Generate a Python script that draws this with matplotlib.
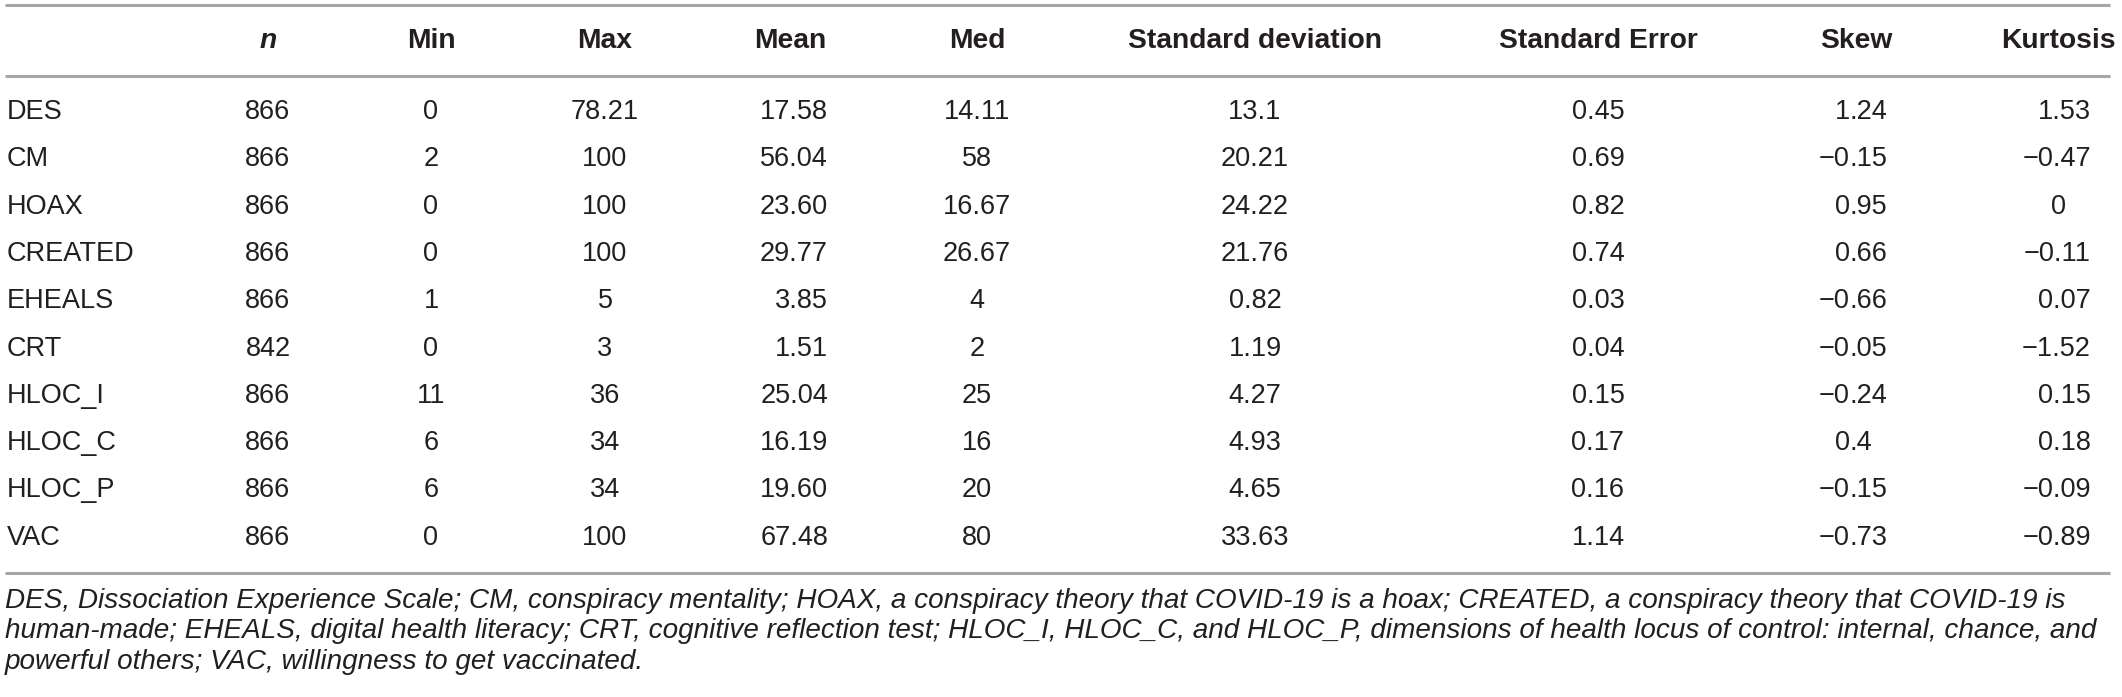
import matplotlib
matplotlib.use('Agg')
import matplotlib.pyplot as plt

plt.rcParams['font.family'] = ['Liberation Sans', 'DejaVu Sans']

columns = ['n', 'Min', 'Max', 'Mean', 'Med', 'Standard deviation',
           'Standard Error', 'Skew', 'Kurtosis']
variables = ['DES', 'CM', 'HOAX', 'CREATED', 'EHEALS', 'CRT',
             'HLOC_I', 'HLOC_C', 'HLOC_P', 'VAC']

n_vals = ['866', '866', '866', '866', '866', '842', '866', '866', '866', '866']
min_vals = ['0', '2', '0', '0', '1', '0', '11', '6', '6', '0']
max_vals = ['78.21', '100', '100', '100', '5', '3', '36', '34', '34', '100']
mean_vals = ['17.58', '56.04', '23.60', '29.77', '3.85', '1.51', '25.04',
             '16.19', '19.60', '67.48']
med_vals = ['14.11', '58', '16.67', '26.67', '4', '2', '25', '16', '20', '80']
sd_vals = ['13.1', '20.21', '24.22', '21.76', '0.82', '1.19', '4.27',
           '4.93', '4.65', '33.63']
se_vals = ['0.45', '0.69', '0.82', '0.74', '0.03', '0.04', '0.15', '0.17',
           '0.16', '1.14']
skew_vals = ['1.24', '\u22120.15', '0.95', '0.66', '\u22120.66', '\u22120.05',
             '\u22120.24', '0.4', '\u22120.15', '\u22120.73']
kurt_vals = ['1.53', '\u22120.47', '0', '\u22120.11', '0.07', '\u22121.52',
             '0.15', '0.18', '\u22120.09', '\u22120.89']

footnote = [
    'DES, Dissociation Experience Scale; CM, conspiracy mentality; HOAX, a conspiracy '
    'theory that COVID-19 is a hoax; CREATED, a conspiracy theory that COVID-19 is',
    'human-made; EHEALS, digital health literacy; CRT, cognitive reflection test; '
    'HLOC_I, HLOC_C, and HLOC_P, dimensions of health locus of control: internal, chance, and',
    'powerful others; VAC, willingness to get vaccinated.',
]

table = [n_vals, min_vals, max_vals, mean_vals, med_vals, sd_vals,
         se_vals, skew_vals, kurt_vals]

# layout in pixels (x from left, y from top)
W, H = 2122, 697
col_x = [268, 431, 605, 790, 977, 1255, 1598, 1856, 2058]
# how values sit under each header
col_align = ['center', 'center', 'center', 'right', 'center', 'center',
             'center', 'decimal', 'right']
right_x = {3: 828, 8: 2091}
dec_x = {7: 1850}

fig = plt.figure(figsize=(W / 100, H / 100), dpi=100)
ax = fig.add_axes([0, 0, 1, 1])
ax.set_xlim(0, W)
ax.set_ylim(H, 0)
ax.axis('off')

body_fs = 19.5
head_fs = 20.3
txt = '#231f20'
line_c = '#a6a6a6'

for y in [5, 76, 573]:
    ax.plot([5, 2110], [y, y], color=line_c, lw=2.2, solid_capstyle='butt')

for j, name in enumerate(columns):
    style = 'italic' if name == 'n' else 'normal'
    ax.text(col_x[j], 41, name, ha='center', va='center', fontsize=head_fs,
            fontweight='bold', fontstyle=style, color=txt)

row_y0, row_dy = 112, 47.3
for i, var in enumerate(variables):
    y = row_y0 + i * row_dy
    ax.text(7, y, var, ha='left', va='center', fontsize=body_fs, color=txt)
    for j, vals in enumerate(table):
        v = vals[i]
        mode = col_align[j]
        if mode == 'right' and v == '0':
            mode = 'center'
        if mode == 'center':
            ax.text(col_x[j], y, v, ha='center', va='center', fontsize=body_fs, color=txt)
        elif mode == 'right':
            ax.text(right_x[j], y, v, ha='right', va='center', fontsize=body_fs, color=txt)
        else:
            whole, _, frac = v.partition('.')
            ax.text(dec_x[j], y, whole, ha='right', va='center', fontsize=body_fs, color=txt)
            if frac:
                ax.text(dec_x[j], y, '.' + frac, ha='left', va='center',
                        fontsize=body_fs, color=txt)

# footnote: size chosen so the longest line spans the table width
fn_fs = 17
fig.canvas.draw()
widest = 0
for line in footnote:
    probe = ax.text(5, 0, line, fontsize=fn_fs, fontstyle='italic')
    widest = max(widest, probe.get_window_extent(fig.canvas.get_renderer()).width)
    probe.remove()
fn_fs = fn_fs * 2098 / widest

for k, line in enumerate(footnote):
    ax.text(5, 601 + k * 30.5, line, ha='left', va='center', fontsize=fn_fs,
            fontstyle='italic', color=txt)

fig.savefig('out.png', dpi=100)
